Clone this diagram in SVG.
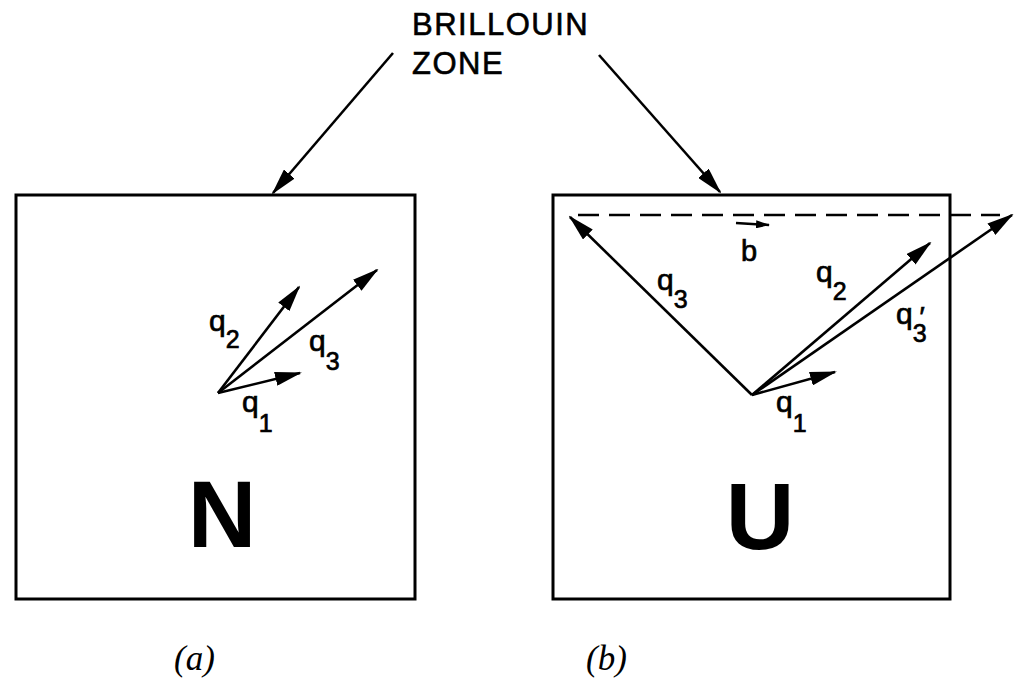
<svg xmlns="http://www.w3.org/2000/svg" width="1019" height="680" viewBox="0 0 1019 680">
<defs>
<style>
.box{fill:none;stroke:#000;stroke-width:3}
.ln{fill:none;stroke:#000;stroke-width:2.6}
.lbl{font-family:"Liberation Sans",Arial,sans-serif;font-size:30px;fill:#000;stroke:#000;stroke-width:0.7}
.sub{font-size:25px}
.big{font-family:"Liberation Sans",Arial,sans-serif;font-size:95px;font-weight:bold;fill:#000}
.cap{font-family:"Liberation Serif","Times New Roman",serif;font-style:italic;font-size:35px;fill:#000}
.title{font-family:"Liberation Sans",Arial,sans-serif;font-size:31px;letter-spacing:1.5px;fill:#000;stroke:#000;stroke-width:0.6}
</style>
<marker id="ah" markerWidth="27" markerHeight="14" refX="25" refY="7" orient="auto" markerUnits="userSpaceOnUse">
<path d="M0,0 L27,7 L0,14 z" fill="#000"/>
</marker>
<marker id="sm" markerWidth="14" markerHeight="8" refX="13" refY="4" orient="auto" markerUnits="userSpaceOnUse">
<path d="M0,0 L14,4 L0,8 z" fill="#000"/>
</marker>
</defs>
<rect width="1019" height="680" fill="#fff"/>

<g id="title">
<text class="title" x="412" y="35">BRILLOUIN</text>
<text class="title" x="412" y="74">ZONE</text>
</g>

<g id="boxA">
<rect class="box" x="16" y="195" width="399" height="404"/>
<text class="big" x="222" y="547" text-anchor="middle">N</text>
<text class="lbl" x="209" y="331">q<tspan class="sub" dy="17">2</tspan></text>
<text class="lbl" x="309" y="351">q<tspan class="sub" dy="19">3</tspan></text>
<text class="lbl" x="242" y="412">q<tspan class="sub" dy="20">1</tspan></text>
</g>

<g id="boxB">
<rect class="box" x="553" y="195" width="397" height="404"/>
<text class="big" x="760" y="549" text-anchor="middle">U</text>
<line x1="578" y1="215" x2="1000" y2="215" stroke="#000" stroke-width="2.6" stroke-dasharray="21 10"/>
<text class="lbl" x="657" y="290">q<tspan class="sub" dy="18">3</tspan></text>
<text class="lbl" x="816" y="282">q<tspan class="sub" dy="18">2</tspan></text>
<text class="lbl" x="896" y="324">q<tspan class="sub" dy="18">3</tspan><tspan style="font-size:28px" dx="-7" dy="-16">′</tspan></text>
<text class="lbl" x="776" y="412">q<tspan class="sub" dy="20">1</tspan></text>
<text class="lbl" x="741" y="261" style="font-size:29px">b</text>
</g>

<g id="captions">
<text class="cap" x="174" y="670">(a)</text>
<text class="cap" x="586" y="670">(b)</text>
</g>

<g id="connectors">
<line class="ln" x1="393" y1="53" x2="273" y2="193" marker-end="url(#ah)"/>
<line class="ln" x1="599" y1="55" x2="720" y2="192" marker-end="url(#ah)"/>
<line class="ln" x1="218" y1="393" x2="300" y2="373" marker-end="url(#ah)"/>
<line class="ln" x1="218" y1="393" x2="299" y2="287" marker-end="url(#ah)"/>
<line class="ln" x1="218" y1="393" x2="377" y2="270" marker-end="url(#ah)"/>
<line class="ln" x1="752" y1="395" x2="570" y2="217" marker-end="url(#ah)"/>
<line class="ln" x1="752" y1="395" x2="835" y2="372" marker-end="url(#ah)"/>
<line class="ln" x1="752" y1="395" x2="930" y2="243" marker-end="url(#ah)"/>
<line class="ln" x1="752" y1="395" x2="1012" y2="215" marker-end="url(#ah)"/>
<line x1="736" y1="223" x2="769" y2="225" stroke="#000" stroke-width="2.4" marker-end="url(#sm)"/>
</g>
</svg>
